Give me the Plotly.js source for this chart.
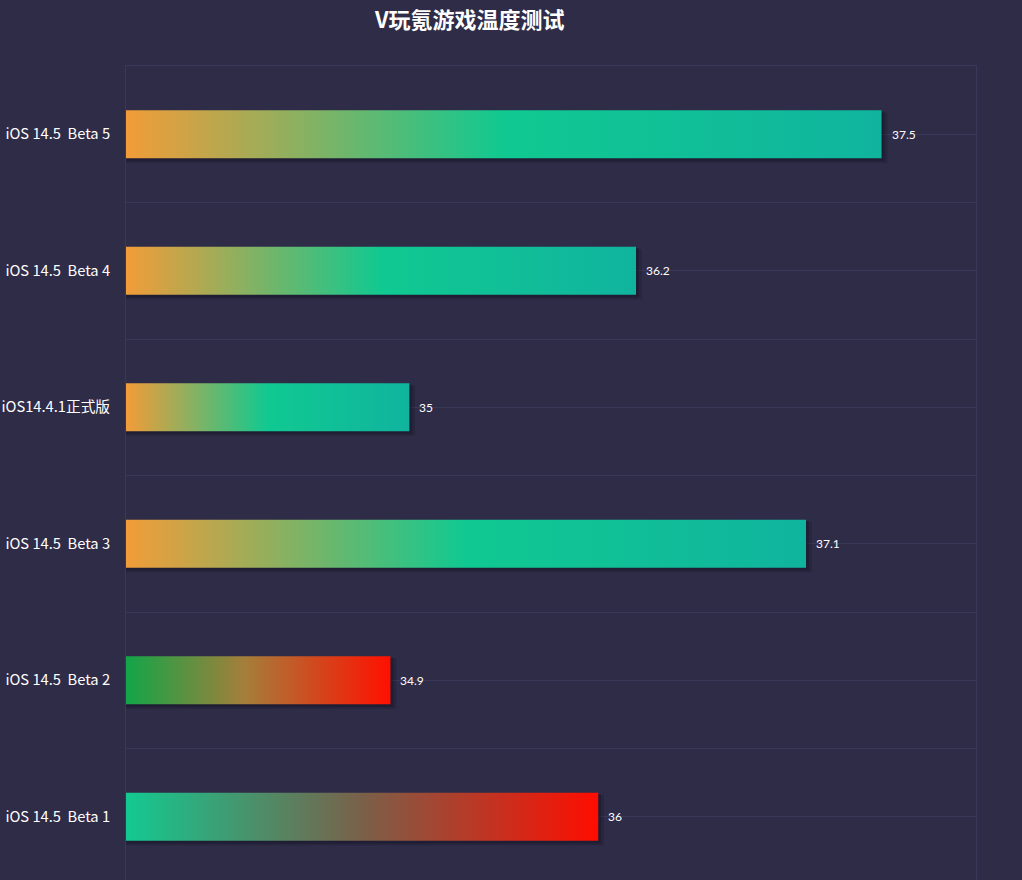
<!DOCTYPE html>
<html>
<head>
<meta charset="utf-8">
<script src="https://cdn.plot.ly/plotly-3.0.1.min.js"></script>
<style>
  html, body { margin: 0; padding: 0; background: #2f2c48; overflow: hidden; }
  #chart { width: 1022px; height: 900px; }
</style>
</head>
<body>
<div id="chart"></div>
<script>
  // bottom to top, as drawn
  const categories = ["iOS 14.5  Beta 1", "iOS 14.5  Beta 2", "iOS 14.5  Beta 3", "iOS14.4.1正式版", "iOS 14.5  Beta 4", "iOS 14.5  Beta 5"];
  const temps = [36, 34.9, 37.1, 35, 36.2, 37.5];
  const barScales = [
    [[0, "#13c991"], [0.5, "#7a6049"], [1, "#ff0d00"]],
    [[0, "#12a548"], [0.45, "#a57e3a"], [1, "#ff1000"]],
    [[0, "#f29c38"], [0.5, "#10c991"], [1, "#10b49e"]],
    [[0, "#f29c38"], [0.5, "#10c991"], [1, "#10b49e"]],
    [[0, "#f29c38"], [0.5, "#10c991"], [1, "#10b49e"]],
    [[0, "#f29c38"], [0.5, "#10c991"], [1, "#10b49e"]],
  ];
  const xMin = 33.5;
  const xMax = 38;
  const halfBar = 0.176;

  const gridColor = "#3a3858";
  const traces = [];
  const annotations = [];

  temps.forEach((value, i) => {
    // soft shadow right/below the bar, two faint layers
    [[0.03, 0.035, "rgba(18,16,32,0.22)"], [0.015, 0.02, "rgba(18,16,32,0.35)"]].forEach(([dx, dy, col]) => {
      traces.push({
        type: "scatter",
        mode: "lines",
        x: [xMin, value + dx, value + dx, xMin, xMin],
        y: [i - halfBar - dy, i - halfBar - dy, i + halfBar - dy / 2, i + halfBar - dy / 2, i - halfBar - dy],
        fill: "toself",
        fillcolor: col,
        line: { width: 0 },
        hoverinfo: "skip",
      });
    });
    traces.push({
      type: "scatter",
      mode: "lines",
      x: [xMin, value, value, xMin, xMin],
      y: [i - halfBar, i - halfBar, i + halfBar, i + halfBar, i - halfBar],
      fill: "toself",
      fillgradient: { type: "horizontal", colorscale: barScales[i] },
      line: { width: 0 },
      name: categories[i],
      hoverinfo: "skip",
    });
    annotations.push({
      x: value,
      y: i,
      xref: "x",
      yref: "y",
      text: String(value),
      showarrow: false,
      xanchor: "left",
      xshift: 8,
      font: { family: "Lato, sans-serif", size: 12, color: "#ffffff" },
    });
  });

  annotations.push({
    x: (469 - 126) / 850,
    y: 1 + (66 - 18) / 819,
    xref: "paper",
    yref: "paper",
    xanchor: "center",
    yanchor: "middle",
    text: "<b>V玩氪游戏温度测试</b>",
    showarrow: false,
    font: { family: "Noto Sans CJK SC, sans-serif", size: 22, color: "#ffffff" },
  });

  const layout = {
    width: 1022,
    height: 900,
    margin: { l: 126, r: 46, t: 66, b: 15 },
    paper_bgcolor: "#2f2c48",
    plot_bgcolor: "#2f2c48",
    showlegend: false,
    xaxis: {
      range: [xMin, xMax],
      showgrid: false,
      zeroline: false,
      showticklabels: false,
      showline: true,
      mirror: true,
      linecolor: gridColor,
      linewidth: 1,
      fixedrange: true,
    },
    yaxis: {
      range: [-0.5, 5.5],
      tickvals: categories.map((_, i) => i),
      ticktext: categories,
      showgrid: true,
      gridcolor: gridColor,
      gridwidth: 1,
      zeroline: false,
      showline: true,
      mirror: true,
      linecolor: gridColor,
      ticks: "",
      ticklabelstandoff: 12,
      tickfont: { family: "Noto Sans CJK SC, sans-serif", size: 14.7, color: "#ffffff" },
      minor: { dtick: 1, tick0: 0.5, showgrid: true, gridcolor: gridColor, gridwidth: 1, ticks: "" },
      fixedrange: true,
    },
    annotations: annotations,
  };

  Plotly.newPlot("chart", traces, layout, { displayModeBar: false, staticPlot: true });
</script>
</body>
</html>
